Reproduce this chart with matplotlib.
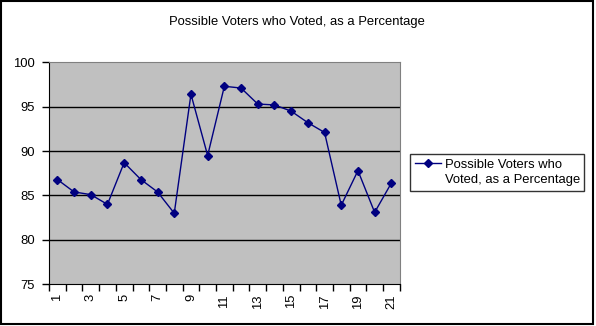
import matplotlib
matplotlib.use("Agg")
import matplotlib.pyplot as plt
from matplotlib.lines import Line2D
from matplotlib.patches import Rectangle

# Data
categories = list(range(1, 22))
voted_pct = [86.8, 85.4, 85.1, 84.0, 88.7, 86.8, 85.4, 83.0, 96.4, 89.5, 97.3,
             97.1, 95.3, 95.2, 94.5, 93.2, 92.1, 83.9, 87.8, 83.1, 86.4]
legend_lines = ["Possible Voters who", "Voted, as a Percentage"]
title = "Possible Voters who Voted, as a Percentage"
y_ticks = [75, 80, 85, 90, 95, 100]

plt.rcParams['font.family'] = ['Liberation Sans', 'DejaVu Sans']
plt.rcParams['font.size'] = 9.4

fig = plt.figure(figsize=(5.96, 3.26), dpi=100)
ax = fig.add_axes([49 / 596, 41.7 / 326, 350.7 / 596, 222 / 326])
ax.set_facecolor('#C0C0C0')

line, = ax.plot(categories, voted_pct, color='#000080', lw=1, marker='D',
                markersize=4.5, zorder=3)

ax.set_xlim(0.5, len(categories) + 0.5)
ax.set_ylim(75, 100)
ax.set_yticks(y_ticks)
for y in y_ticks[1:-1]:
    ax.axhline(y, color='black', lw=1, zorder=1)

# category labels on odd positions, tick marks between categories
ax.set_xticks(categories)
ax.set_xticklabels([str(c) if c % 2 == 1 else '' for c in categories], rotation=90)
ax.set_xticks([c - 0.5 for c in categories] + [len(categories) + 0.5], minor=True)
ax.tick_params(axis='x', which='major', length=0, pad=7)
ax.tick_params(axis='x', which='minor', length=5, width=1, direction='out')
ax.tick_params(axis='y', length=5, width=1, direction='out', pad=5)

for side in ['left', 'bottom']:
    ax.spines[side].set_color('black')
for side in ['top', 'right']:
    ax.spines[side].set_color('#808080')

fig.text(297 / 596, 1 - 22 / 326, title, ha='center', va='center')

# two-line legend label, marker beside the first line only
blank = Line2D([], [], alpha=0)
leg = fig.legend(handles=[line, blank], labels=legend_lines, loc='upper left',
                 bbox_to_anchor=(410 / 596, 1 - 154 / 326),
                 frameon=True, fancybox=False, edgecolor='black',
                 borderpad=0.35, handlelength=2.0, handletextpad=0.3,
                 labelspacing=0.25, borderaxespad=0)
leg.get_frame().set_linewidth(1)

# outer chart border
fig.patches.append(Rectangle((0.5 / 596, 2 / 326), 592 / 596, 323 / 326,
                             transform=fig.transFigure, fill=False,
                             edgecolor='black', lw=1.5))

fig.savefig('out.png', dpi=100)
